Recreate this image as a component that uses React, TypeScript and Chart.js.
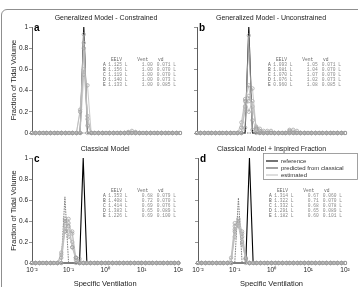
import React, { useEffect, useRef } from "react";
import { Chart, registerables } from "chart.js";

Chart.register(...registerables);

// ---- compartment grid (specific ventilation, 10 compartments per decade) ----
const ventilationGrid = [
  0.01, 0.01259, 0.01585, 0.01995, 0.02512, 0.03162, 0.03981, 0.05012, 0.0631, 0.07943,
  0.1, 0.1259, 0.1585, 0.1995, 0.2512, 0.3162, 0.3981, 0.5012, 0.631, 0.7943,
  1, 1.259, 1.585, 1.995, 2.512, 3.162, 3.981, 5.012, 6.31, 7.943,
  10, 12.59, 15.85, 19.95, 25.12, 31.62, 39.81, 50.12, 63.1, 79.43,
  100,
];

const xTickValues = [0.01, 0.1, 1, 10, 100];
const xTickLabels = ["10⁻²", "10⁻¹", "10⁰", "10¹", "10²"];
const yTickValues = [0, 0.2, 0.4, 0.6, 0.8, 1];
const yTickLabels = ["0", "0.2", "0.4", "0.6", "0.8", "1"];

const panelTitles = [
  "Generalized Model - Constrained",
  "Generalized Model - Unconstrained",
  "Classical Model",
  "Classical Model + Inspired Fraction",
];
const panelLetters = ["a", "b", "c", "d"];
const legendLabels = ["reference", "predicted from classical", "estimated"];
const tableHeader = ["EELV", "Vent", "vd"];
const estimateNames = ["A", "B", "C", "D", "E"];
const yAxisTitle = "Fraction of Tidal Volume";
const xAxisTitle = "Specific Ventilation";

// ---- tables ----
const eelvA = [1.125, 1.156, 1.119, 1.14, 1.133];
const ventA = [1.0, 1.0, 1.0, 1.0, 1.0];
const vdA = [0.071, 0.07, 0.07, 0.073, 0.085];

const eelvB = [1.093, 1.081, 1.07, 1.076, 0.96];
const ventB = [1.05, 1.04, 1.07, 1.02, 1.08];
const vdB = [0.071, 0.07, 0.07, 0.073, 0.085];

const eelvC = [1.353, 1.408, 1.414, 1.383, 1.226];
const ventC = [0.68, 0.72, 0.69, 0.65, 0.69];
const vdC = [0.079, 0.07, 0.076, 0.089, 0.1];

const eelvD = [1.314, 1.322, 1.332, 1.291, 1.182];
const ventD = [0.67, 0.71, 0.68, 0.65, 0.6];
const vdD = [0.06, 0.07, 0.078, 0.089, 0.101];

// ---- distributions: non-zero compartments (index into ventilationGrid -> fraction) ----
const referenceA: Record<number, number> = { 14: 1 };
const predictedA: Record<number, number> = {};
const estA_A: Record<number, number> = { 13: 0.2, 14: 0.8 };
const estA_B: Record<number, number> = { 14: 0.55, 15: 0.45 };
const estA_C: Record<number, number> = { 14: 0.93, 15: 0.07 };
const estA_D: Record<number, number> = { 13: 0.22, 14: 0.6, 15: 0.16, 27: 0.02 };
const estA_E: Record<number, number> = { 14: 0.85, 15: 0.13, 26: 0.01, 28: 0.01 };

const referenceB: Record<number, number> = { 14: 1 };
const predictedB: Record<number, number> = {};
const estB_A: Record<number, number> = { 12: 0.05, 13: 0.3, 14: 0.45, 15: 0.12, 16: 0.04, 17: 0.02, 18: 0.02 };
const estB_B: Record<number, number> = { 13: 0.25, 14: 0.3, 15: 0.42, 16: 0.03 };
const estB_C: Record<number, number> = { 13: 0.05, 14: 0.92, 15: 0.03 };
const estB_D: Record<number, number> = { 12: 0.1, 13: 0.32, 14: 0.2, 15: 0.3, 16: 0.05, 19: 0.02, 25: 0.02, 26: 0.03 };
const estB_E: Record<number, number> = { 13: 0.22, 14: 0.35, 15: 0.25, 16: 0.06, 17: 0.04, 20: 0.02, 25: 0.03, 27: 0.02 };

const referenceC: Record<number, number> = { 14: 1 };
const predictedC: Record<number, number> = { 9: 0.63 };
const estC_A: Record<number, number> = { 8: 0.05, 9: 0.4, 10: 0.35, 11: 0.15, 12: 0.05 };
const estC_B: Record<number, number> = { 8: 0.1, 9: 0.3, 10: 0.42, 11: 0.15, 12: 0.03 };
const estC_C: Record<number, number> = { 9: 0.35, 10: 0.3, 11: 0.3, 12: 0.05 };
const estC_D: Record<number, number> = { 8: 0.08, 9: 0.42, 10: 0.25, 11: 0.2, 12: 0.05 };
const estC_E: Record<number, number> = { 9: 0.3, 10: 0.38, 11: 0.28, 13: 0.04 };

const referenceD: Record<number, number> = { 14: 1 };
const predictedD: Record<number, number> = { 11: 0.62 };
const estD_A: Record<number, number> = { 10: 0.3, 11: 0.4, 12: 0.25, 13: 0.05 };
const estD_B: Record<number, number> = { 10: 0.35, 11: 0.38, 12: 0.2, 13: 0.04 };
const estD_C: Record<number, number> = { 10: 0.25, 11: 0.42, 12: 0.3 };
const estD_D: Record<number, number> = { 9: 0.05, 10: 0.38, 11: 0.35, 12: 0.18, 13: 0.04 };
const estD_E: Record<number, number> = { 10: 0.32, 11: 0.36, 12: 0.28, 13: 0.04 };

const FONT = '"Liberation Sans", Arial, sans-serif';
const MONO = '"Liberation Mono", "DejaVu Sans Mono", monospace';

type Panel = {
  idx: number;
  box: { left: number; top: number; width: number; height: number };
  padTop: number;
  padRight: number;
  yWidth: number;
  xHeight: number;
  yLabels: boolean;
  xLabels: boolean;
  legend: boolean;
  reference: Record<number, number>;
  predicted: Record<number, number>;
  estimates: Record<number, number>[];
  eelv: number[];
  vent: number[];
  vd: number[];
};

const panels: Panel[] = [
  {
    idx: 0, box: { left: 0, top: 0, width: 186, height: 145 }, padTop: 27, padRight: 6, yWidth: 32, xHeight: 12,
    yLabels: true, xLabels: false, legend: false,
    reference: referenceA, predicted: predictedA, estimates: [estA_A, estA_B, estA_C, estA_D, estA_E],
    eelv: eelvA, vent: ventA, vd: vdA,
  },
  {
    idx: 1, box: { left: 178, top: 0, width: 180, height: 145 }, padTop: 27, padRight: 13, yWidth: 19, xHeight: 12,
    yLabels: false, xLabels: false, legend: false,
    reference: referenceB, predicted: predictedB, estimates: [estB_A, estB_B, estB_C, estB_D, estB_E],
    eelv: eelvB, vent: ventB, vd: vdB,
  },
  {
    idx: 2, box: { left: 0, top: 140, width: 186, height: 148 }, padTop: 18, padRight: 6, yWidth: 32, xHeight: 25,
    yLabels: true, xLabels: true, legend: false,
    reference: referenceC, predicted: predictedC, estimates: [estC_A, estC_B, estC_C, estC_D, estC_E],
    eelv: eelvC, vent: ventC, vd: vdC,
  },
  {
    idx: 3, box: { left: 178, top: 140, width: 180, height: 148 }, padTop: 18, padRight: 13, yWidth: 20, xHeight: 25,
    yLabels: false, xLabels: true, legend: true,
    reference: referenceD, predicted: predictedD, estimates: [estD_A, estD_B, estD_C, estD_D, estD_E],
    eelv: eelvD, vent: ventD, vd: vdD,
  },
];

const toPoints = (s: Record<number, number>) =>
  ventilationGrid.map((x, i) => ({ x, y: s[i] ?? 0 }));

function buildDatasets(p: Panel) {
  const est = p.estimates.map((e, k) => ({
    label: `estimated ${estimateNames[k]}`,
    data: toPoints(e),
    showLine: true,
    borderColor: "#bcbcbc",
    borderWidth: 0.8,
    pointRadius: 1.7,
    pointBorderWidth: 0.7,
    pointBorderColor: "#9c9c9c",
    pointBackgroundColor: "rgba(255,255,255,0)",
    clip: false as any,
  }));
  return [
    ...est,
    {
      label: legendLabels[1],
      data: toPoints(p.predicted),
      showLine: true,
      borderColor: "#7a7a7a",
      borderWidth: 1,
      borderDash: [1.5, 1],
      pointRadius: 0,
      clip: false as any,
    },
    {
      label: legendLabels[0],
      data: toPoints(p.reference),
      showLine: true,
      borderColor: "#000000",
      borderWidth: 1.1,
      pointRadius: 0,
      clip: false as any,
    },
  ];
}

function annotationPlugin(p: Panel) {
  return {
    id: "annot" + p.idx,
    afterDraw(chart: any) {
      const { ctx } = chart;
      const { left, right, top } = chart.chartArea;
      ctx.save();
      // panel title
      ctx.font = `7px ${FONT}`;
      ctx.fillStyle = "#222";
      ctx.textAlign = "center";
      ctx.textBaseline = "middle";
      ctx.fillText(panelTitles[p.idx], (left + right) / 2, top - 9);
      // panel letter
      ctx.font = `bold 10px ${FONT}`;
      ctx.fillStyle = "#000";
      ctx.textAlign = "left";
      ctx.textBaseline = "alphabetic";
      ctx.fillText(panelLetters[p.idx], left + 2, top + 3.5);
      // table
      ctx.font = `4.6px ${MONO}`;
      ctx.textBaseline = "middle";
      ctx.fillStyle = "#666";
      const hy = top + 32.5;
      ctx.fillText(tableHeader[0], left + 79, hy);
      ctx.fillText(tableHeader[1], left + 105.3, hy);
      ctx.fillText(tableHeader[2], left + 126, hy);
      estimateNames.forEach((n, k) => {
        const y = top + 37.5 + 5 * k;
        ctx.fillStyle = "#555";
        ctx.fillText(n, left + 71, y);
        ctx.fillStyle = "#888";
        ctx.fillText(`${p.eelv[k].toFixed(3)} L`, left + 76.3, y);
        ctx.fillText(p.vent[k].toFixed(2), left + 109.7, y);
        ctx.fillText(`${p.vd[k].toFixed(3)} L`, left + 124.7, y);
      });
      // legend
      if (p.legend) {
        const lx = left + 65;
        const ly = top - 5;
        const lw = 94;
        const lh = 26;
        ctx.fillStyle = "#fff";
        ctx.fillRect(lx, ly, lw, lh);
        ctx.strokeStyle = "#8a8a8a";
        ctx.lineWidth = 0.8;
        ctx.strokeRect(lx + 0.5, ly + 0.5, lw, lh);
        const styles = [
          { c: "#000", w: 1.1 },
          { c: "#7a7a7a", w: 1.4 },
          { c: "#bcbcbc", w: 1 },
        ];
        ctx.font = `6px ${FONT}`;
        ctx.textBaseline = "middle";
        legendLabels.forEach((lab, k) => {
          const y = top + 3 + 7 * k;
          ctx.strokeStyle = styles[k].c;
          ctx.lineWidth = styles[k].w;
          ctx.beginPath();
          ctx.moveTo(left + 68, y);
          ctx.lineTo(left + 80, y);
          ctx.stroke();
          ctx.fillStyle = "#333";
          ctx.fillText(lab, left + 83, y);
        });
      }
      ctx.restore();
    },
  };
}

function PanelChart({ p }: { p: Panel }) {
  const ref = useRef<HTMLCanvasElement | null>(null);
  useEffect(() => {
    if (!ref.current) return;
    const chart = new Chart(ref.current, {
      type: "scatter",
      data: { datasets: buildDatasets(p) as any },
      options: {
        animation: false,
        responsive: false,
        devicePixelRatio: 1,
        events: [],
        layout: { padding: { top: p.padTop, right: p.padRight, left: 0, bottom: 0 } },
        plugins: { legend: { display: false }, tooltip: { enabled: false }, title: { display: false } },
        scales: {
          x: {
            type: "logarithmic",
            min: 0.01,
            max: 100,
            afterBuildTicks: (s: any) => {
              s.ticks = xTickValues.map((v) => ({ value: v }));
            },
            afterFit: (s: any) => {
              s.height = p.xHeight;
            },
            grid: { display: false, drawTicks: false },
            border: { display: false },
            ticks: {
              display: p.xLabels,
              autoSkip: false,
              maxRotation: 0,
              padding: 3,
              color: "#222",
              font: { size: 6.5, family: FONT },
              callback: (_v: any, i: number) => xTickLabels[i],
            },
            title: {
              display: p.xLabels,
              text: xAxisTitle,
              color: "#222",
              font: { size: 7.5, family: FONT },
              padding: { top: 0, bottom: 0 },
            },
          },
          y: {
            type: "linear",
            min: 0,
            max: 1,
            afterBuildTicks: (s: any) => {
              s.ticks = yTickValues.map((v) => ({ value: v }));
            },
            afterFit: (s: any) => {
              s.width = p.yWidth;
            },
            grid: { display: true, drawOnChartArea: false, drawTicks: true, tickLength: 3, color: "#666", lineWidth: 0.7 },
            border: { display: true, color: "#333", width: 0.8 },
            ticks: {
              display: p.yLabels,
              padding: 1,
              color: "#222",
              font: { size: 6.5, family: FONT },
              callback: (_v: any, i: number) => yTickLabels[i],
            },
            title: {
              display: p.yLabels,
              text: yAxisTitle,
              color: "#222",
              font: { size: 7.5, family: FONT },
              padding: { top: 9, bottom: 0 },
            },
          },
        },
      } as any,
      plugins: [annotationPlugin(p)],
    });
    return () => chart.destroy();
  }, [p]);
  return (
    <canvas
      ref={ref}
      width={p.box.width}
      height={p.box.height}
      style={{
        position: "absolute",
        left: p.box.left,
        top: p.box.top,
        width: p.box.width,
        height: p.box.height,
      }}
    />
  );
}

export default function App() {
  return (
    <div
      style={{
        position: "fixed",
        left: 0,
        top: 0,
        width: 358,
        height: 287,
        overflow: "hidden",
        background: "#fff",
      }}
    >
      <div
        style={{
          position: "absolute",
          left: 1,
          top: 9,
          width: 420,
          height: 420,
          border: "1px solid #8f8f8f",
          borderRadius: 6,
        }}
      />
      {panels.map((p) => (
        <PanelChart key={p.idx} p={p} />
      ))}
    </div>
  );
}
